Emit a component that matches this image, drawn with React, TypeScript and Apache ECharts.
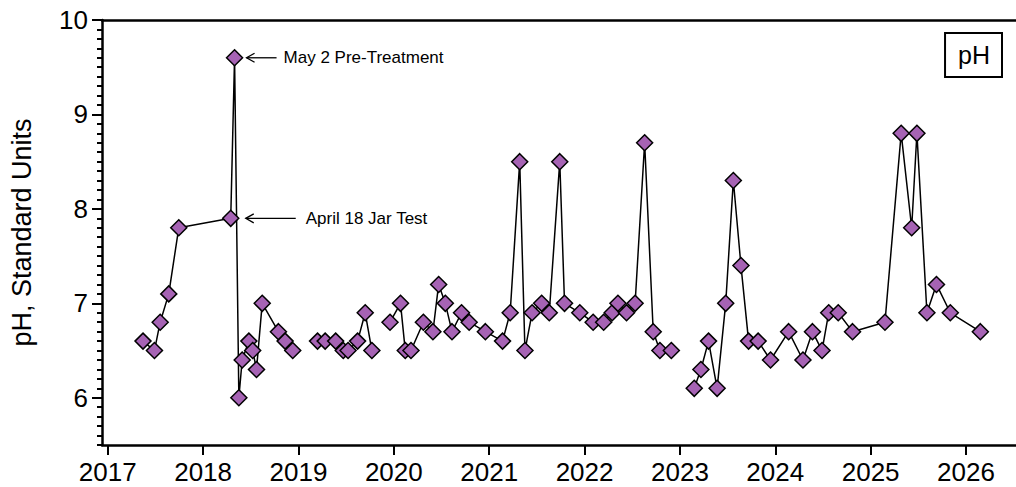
import React, { useEffect, useRef } from "react";
import * as echarts from "echarts";

// Sample dates as decimal years (null value = break in the line)
const sampleYears: number[] = [
  2017.37, 2017.49, 2017.55, 2017.64, 2017.745, 2018.29, 2018.33, 2018.375, 2018.41, 2018.48,
  2018.52, 2018.56, 2018.62, 2018.79, 2018.86, 2018.94, 2019.07,
  2019.2, 2019.28, 2019.39, 2019.47, 2019.52, 2019.62, 2019.7, 2019.77, 2019.86,
  2019.96, 2020.07, 2020.12, 2020.18, 2020.31, 2020.41, 2020.47, 2020.54, 2020.61, 2020.71,
  2020.79, 2020.96, 2021.14, 2021.22, 2021.32, 2021.375, 2021.45, 2021.55, 2021.63, 2021.74,
  2021.79, 2021.95, 2022.09, 2022.2, 2022.29, 2022.35, 2022.44, 2022.53, 2022.63, 2022.72,
  2022.79, 2022.91, 2023.03,
  2023.15, 2023.22, 2023.3, 2023.39, 2023.48, 2023.56, 2023.64, 2023.72, 2023.82, 2023.95,
  2024.14, 2024.29, 2024.39, 2024.49, 2024.56, 2024.66, 2024.81, 2025.15, 2025.32, 2025.43,
  2025.485, 2025.59, 2025.69, 2025.835, 2026.15,
];

const phValues: (number | null)[] = [
  6.6, 6.5, 6.8, 7.1, 7.8, 7.9, 9.6, 6.0, 6.4, 6.6,
  6.5, 6.3, 7.0, 6.7, 6.6, 6.5, null,
  6.6, 6.6, 6.6, 6.5, 6.5, 6.6, 6.9, 6.5, null,
  6.8, 7.0, 6.5, 6.5, 6.8, 6.7, 7.2, 7.0, 6.7, 6.9,
  6.8, 6.7, 6.6, 6.9, 8.5, 6.5, 6.9, 7.0, 6.9, 8.5,
  7.0, 6.9, 6.8, 6.8, 6.9, 7.0, 6.9, 7.0, 8.7, 6.7,
  6.5, 6.5, null,
  6.1, 6.3, 6.6, 6.1, 7.0, 8.3, 7.4, 6.6, 6.6, 6.4,
  6.7, 6.4, 6.7, 6.5, 6.9, 6.9, 6.7, 6.8, 8.8, 7.8,
  8.8, 6.9, 7.2, 6.9, 6.7,
];

const xTickYears: number[] = [2017, 2018, 2019, 2020, 2021, 2022, 2023, 2024, 2025, 2026];
const yTickValues: number[] = [6, 7, 8, 9, 10];

const annotationLabels: string[] = ["May 2 Pre-Treatment", "April 18 Jar Test"];
const annotationYears: number[] = [2018.33, 2018.29];
const annotationValues: number[] = [9.6, 7.9];

const X_MIN = 2016.94;
const X_MAX = 2026.524;
const Y_MIN = 5.5;
const Y_MAX = 10;

const FONT = "'Liberation Sans', Arial, Helvetica, sans-serif";

export default function App() {
  const ref = useRef<HTMLDivElement>(null);

  useEffect(() => {
    if (!ref.current) return;
    const chart = echarts.init(ref.current, null, { renderer: "svg" });
    const data = sampleYears.map((x, i) => [x, phValues[i] === null ? "-" : phValues[i]]);
    const axisLineStyle = { color: "#000", width: 2.5 };

    chart.setOption({
      animation: false,
      backgroundColor: "#fff",
      grid: { left: 102, right: 0, top: 20, bottom: 42, containLabel: false },
      legend: {
        data: [{ name: "pH", icon: "none" }],
        right: 14,
        top: 33,
        itemWidth: 0,
        itemHeight: 0,
        borderColor: "#000",
        borderWidth: 2,
        padding: [7, 12, 7, 8],
        selectedMode: false,
        textStyle: { fontSize: 25, color: "#000", fontFamily: FONT, lineHeight: 30 },
      },
      xAxis: [
        {
          type: "value",
          min: X_MIN,
          max: X_MAX,
          position: "bottom",
          axisLine: { show: true, onZero: false, lineStyle: axisLineStyle },
          axisTick: {
            show: true,
            customValues: xTickYears,
            length: 10,
            lineStyle: { color: "#000", width: 2 },
          },
          axisLabel: {
            customValues: xTickYears,
            fontSize: 26,
            color: "#000",
            fontFamily: FONT,
            margin: 14,
            formatter: (v: number) => String(Math.round(v)),
          },
          splitLine: { show: false },
        },
        {
          type: "value",
          min: X_MIN,
          max: X_MAX,
          position: "top",
          axisLine: { show: true, onZero: false, lineStyle: axisLineStyle },
          axisTick: { show: false },
          axisLabel: { show: false },
          splitLine: { show: false },
        },
      ],
      yAxis: [
        {
          type: "value",
          min: Y_MIN,
          max: Y_MAX,
          interval: 0.1,
          axisLine: { show: true, onZero: false, lineStyle: axisLineStyle },
          axisTick: { show: true, length: 5, lineStyle: { color: "#000", width: 2 } },
          axisLabel: {
            customValues: yTickValues,
            fontSize: 26,
            color: "#000",
            fontFamily: FONT,
            margin: 14,
            formatter: (v: number) => String(Math.round(v)),
          },
          splitLine: { show: false },
          name: "pH, Standard Units",
          nameLocation: "middle",
          nameRotate: 90,
          nameGap: 67,
          nameTextStyle: { fontSize: 27, color: "#000", fontFamily: FONT },
        },
        {
          type: "value",
          min: Y_MIN,
          max: Y_MAX,
          position: "left",
          axisLine: { show: false, onZero: false },
          axisTick: {
            show: true,
            customValues: yTickValues,
            length: 10,
            lineStyle: { color: "#000", width: 2 },
          },
          axisLabel: { show: false },
          splitLine: { show: false },
        },
      ],
      series: [
        {
          name: "pH",
          type: "line",
          xAxisIndex: 0,
          yAxisIndex: 0,
          data,
          connectNulls: false,
          symbol: "diamond",
          symbolSize: 16,
          showAllSymbol: true,
          itemStyle: { color: "#A663B4", borderColor: "#000", borderWidth: 1.5 },
          lineStyle: { color: "#000", width: 1.5 },
          emphasis: { disabled: true },
        },
      ],
    });

    // Annotations anchored on their data points
    const tipOffsets = [12, 15];
    const tailOffsets = [42, 65];
    const textOffsets = [49, 75];
    const elements: any[] = [];
    annotationLabels.forEach((label, i) => {
      const p = chart.convertToPixel({ xAxisIndex: 0, yAxisIndex: 0 }, [
        annotationYears[i],
        annotationValues[i],
      ]) as number[];
      const px = p[0];
      const py = p[1];
      const tip = px + tipOffsets[i];
      elements.push({
        type: "line",
        shape: { x1: tip, y1: py, x2: px + tailOffsets[i], y2: py },
        style: { stroke: "#000", lineWidth: 1.3 },
        z: 10,
      });
      elements.push({
        type: "polyline",
        shape: { points: [[tip + 8, py - 4.5], [tip, py], [tip + 8, py + 4.5]] },
        style: { stroke: "#000", lineWidth: 1.3, fill: "none" },
        z: 10,
      });
      elements.push({
        type: "text",
        x: px + textOffsets[i],
        y: py,
        style: {
          text: label,
          fontSize: 17,
          fontFamily: FONT,
          fill: "#000",
          verticalAlign: "middle",
          align: "left",
        },
        z: 10,
      });
    });
    chart.setOption({ graphic: elements });

    return () => chart.dispose();
  }, []);

  return (
    <div
      ref={ref}
      style={{ position: "fixed", left: 0, top: 0, width: 1016, height: 487, background: "#fff" }}
    />
  );
}
